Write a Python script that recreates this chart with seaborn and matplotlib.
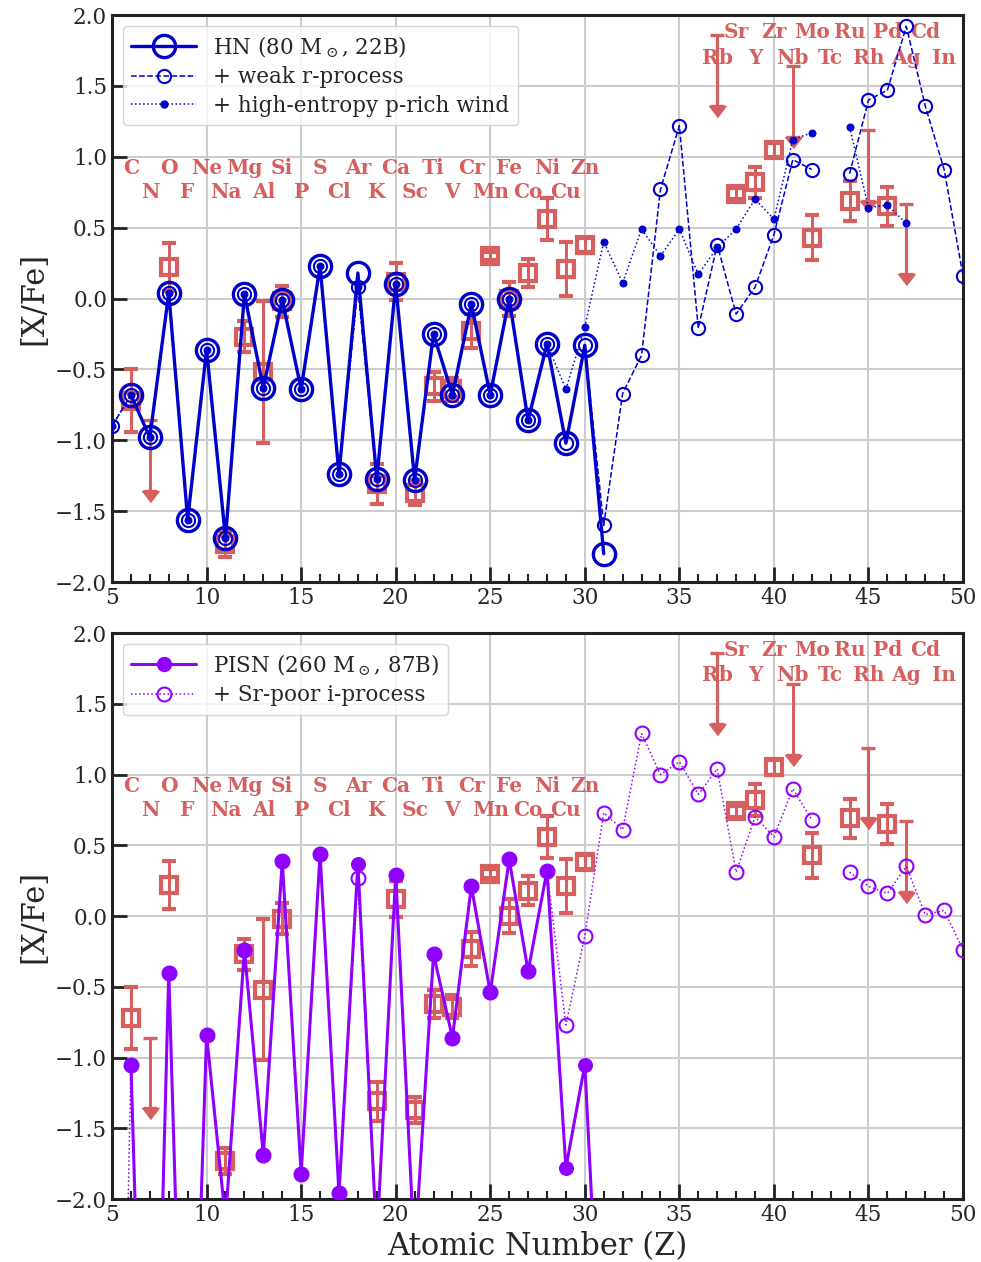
import numpy as np
import pandas as pd
import matplotlib.pyplot as plt
import seaborn as sns
from matplotlib.ticker import MultipleLocator

nan = np.nan

# observed abundances (squares with error bars)
obs_z = [6, 8, 11, 12, 13, 14, 19, 20, 21, 22, 23, 24, 25, 26, 27, 28, 29, 30,
         38, 39, 40, 42, 44, 46]
obs_val = [-0.72, 0.22, -1.73, -0.27, -0.52, -0.02, -1.31, 0.12, -1.37, -0.62,
           -0.64, -0.23, 0.30, 0.00, 0.18, 0.56, 0.21, 0.38,
           0.74, 0.82, 1.05, 0.43, 0.69, 0.65]
obs_err = [0.22, 0.17, 0.09, 0.11, 0.50, 0.11, 0.14, 0.13, 0.09, 0.10,
           0.08, 0.12, 0.03, 0.12, 0.10, 0.15, 0.19, 0.05,
           0.04, 0.11, 0.05, 0.16, 0.14, 0.14]

# upper limits (arrows)
lim_z = [7, 37, 41, 45, 47]
lim_val = [-0.86, 1.86, 1.64, 1.19, 0.67]
lim_len = 0.5

# element labels
elem_even = ["C", "O", "Ne", "Mg", "Si", "S", "Ar", "Ca", "Ti", "Cr", "Fe", "Ni", "Zn",
             "Sr", "Zr", "Mo", "Ru", "Pd", "Cd"]
elem_even_z = [6, 8, 10, 12, 14, 16, 18, 20, 22, 24, 26, 28, 30, 38, 40, 42, 44, 46, 48]
elem_odd = ["N", "F", "Na", "Al", "P", "Cl", "K", "Sc", "V", "Mn", "Co", "Cu",
            "Rb", "Y", "Nb", "Tc", "Rh", "Ag", "In"]
elem_odd_z = [7, 9, 11, 13, 15, 17, 19, 21, 23, 25, 27, 29, 37, 39, 41, 43, 45, 47, 49]

# HN model (80 Msun, 22B)
hn_z = list(range(6, 32))
hn_val = [-0.68, -0.98, 0.04, -1.56, -0.36, -1.69, 0.03, -0.63, -0.01, -0.64,
          0.23, -1.24, 0.18, -1.27, 0.10, -1.28, -0.25, -0.68, -0.04, -0.68,
          0.00, -0.86, -0.32, -1.02, -0.33, -1.80]

# + weak r-process
wr_z = list(range(5, 51))
wr_val = [-0.90, -0.68, -0.98, 0.04, -1.56, -0.36, -1.69, 0.03, -0.63, -0.01,
          -0.64, 0.23, -1.24, 0.08, -1.27, 0.10, -1.28, -0.25, -0.68, -0.04,
          -0.68, 0.00, -0.86, -0.32, -1.02, -0.33, -1.60, -0.67, -0.40, 0.77,
          1.22, -0.21, 0.38, -0.11, 0.08, 0.45, 0.98, 0.91, nan, 0.88,
          1.40, 1.47, 1.92, 1.36, 0.91, 0.16]

# + high-entropy p-rich wind
he_z = list(range(5, 48))
he_val = [-0.90, -0.68, -0.98, 0.04, -1.56, -0.36, -1.69, 0.03, -0.63, -0.01,
          -0.64, 0.23, -1.24, 0.08, -1.27, 0.10, -1.28, -0.25, -0.68, -0.04,
          -0.68, 0.00, -0.86, -0.32, -0.64, -0.20, 0.40, 0.11, 0.49, 0.30,
          0.49, 0.17, 0.36, 0.49, 0.70, 0.56, 1.12, 1.17, nan, 1.21,
          0.64, 0.66, 0.53]

# PISN model (260 Msun, 87B)
pisn_z = list(range(6, 32))
pisn_val = [-1.05, -5.5, -0.40, -4.9, -0.84, -2.15, -0.24, -1.69, 0.39, -1.82,
            0.44, -1.96, 0.37, -2.30, 0.29, -2.40, -0.27, -0.86, 0.21, -0.54,
            0.40, -0.39, 0.32, -1.78, -1.05, -3.7]

# + Sr-poor i-process
ip_z = list(range(5, 51))
ip_val = [-7.7, -1.05, -5.5, -0.40, -4.9, -0.84, -2.15, -0.24, -1.69, 0.39,
          -1.82, 0.44, -1.96, 0.27, -2.30, 0.29, -2.40, -0.27, -0.86, 0.21,
          -0.54, 0.40, -0.39, 0.32, -0.77, -0.14, 0.73, 0.61, 1.29, 1.00,
          1.09, 0.86, 1.04, 0.31, 0.70, 0.56, 0.90, 0.68, nan, 0.31,
          0.21, 0.16, 0.35, 0.01, 0.04, -0.24]

RED = "#d65f5f"
BLUE = "mediumblue"
PURPLE = "#8f00ff"

sns.set_theme(style="whitegrid")
plt.rcParams["font.family"] = ["DejaVu Serif"]
plt.rcParams["mathtext.fontset"] = "dejavuserif"


def to_df(z, v):
    df = pd.DataFrame({"Z": z, "val": v})
    # segment id so that a gap (nan) breaks the line
    df["seg"] = df["val"].isna().cumsum()
    return df.dropna()


def draw_series(ax, z, v, label, **kw):
    df = to_df(z, v)
    sns.lineplot(data=df, x="Z", y="val", units="seg", estimator=None,
                 sort=False, ax=ax, legend=False, **kw)
    ax.plot([], [], label=label, **kw)


def draw_obs(ax):
    ax.errorbar(obs_z, obs_val, yerr=obs_err, fmt="s", ms=12, mfc="none",
                mec=RED, mew=3, ecolor=RED, elinewidth=2.2, capsize=5,
                capthick=2.4, zorder=2)
    low = [v - lim_len for v in lim_val]
    ax.errorbar(lim_z, lim_val, yerr=[[lim_len] * len(lim_z), [0] * len(lim_z)],
                fmt="none", ecolor=RED, elinewidth=2.2, capsize=5, capthick=2.4,
                zorder=2)
    ax.plot(lim_z, low, ls="none", marker=[(-1, 0), (1, 0), (0, -1.3)],
            ms=16, color=RED, zorder=2)
    for name, z in zip(elem_even, elem_even_z):
        y = 1.88 if z > 31 else 0.92
        ax.text(z, y, name, color=RED, fontsize=14.5, fontweight="bold",
                ha="center", va="center")
    for name, z in zip(elem_odd, elem_odd_z):
        y = 1.70 if z > 31 else 0.75
        ax.text(z, y, name, color=RED, fontsize=14.5, fontweight="bold",
                ha="center", va="center")


def style_axes(ax):
    ax.set_xlim(5, 50)
    ax.set_ylim(-2.0, 2.0)
    ax.xaxis.set_major_locator(MultipleLocator(5))
    ax.xaxis.set_minor_locator(MultipleLocator(1))
    ax.yaxis.set_major_locator(MultipleLocator(0.5))
    ax.tick_params(axis="both", which="major", direction="in", length=11,
                   width=2, color="#222222", labelsize=15.5, bottom=True, left=True)
    ax.tick_params(axis="x", which="minor", direction="in", length=6,
                   width=1.5, color="#222222", bottom=True)
    ax.grid(True, which="major", color="#cccccc", lw=1.5)
    for sp in ax.spines.values():
        sp.set_color("#222222")
        sp.set_linewidth(2.2)
    ax.set_ylabel("[X/Fe]", fontsize=22)
    ax.set_xlabel("")


fig = plt.figure(figsize=(9.81, 12.62), dpi=100)
ax1 = fig.add_axes([0.1142, 0.5388, 0.8675, 0.4493])
ax2 = fig.add_axes([0.1142, 0.0499, 0.8675, 0.4485])

# top panel
draw_obs(ax1)
draw_series(ax1, hn_z, hn_val, r"HN (80 M$_\odot$, 22B)", color=BLUE, lw=2.4,
            marker="o", ms=16, mfc="none", mec=BLUE, mew=2.4, zorder=3)
draw_series(ax1, wr_z, wr_val, "+ weak r-process", color=BLUE, lw=1.1, ls="--",
            marker="o", ms=9.5, mfc="none", mec=BLUE, mew=1.5, zorder=4)
draw_series(ax1, he_z, he_val, "+ high-entropy p-rich wind", color=BLUE, lw=1.1,
            ls=":", marker="o", ms=5, mfc=BLUE, mec=BLUE, zorder=5)
style_axes(ax1)
ax1.legend(loc="upper left", fontsize=15.5, frameon=True, framealpha=0.8,
           edgecolor="#cccccc", handlelength=3, borderpad=0.4, labelspacing=0.3)

# bottom panel
draw_obs(ax2)
draw_series(ax2, pisn_z, pisn_val, r"PISN (260 M$_\odot$, 87B)", color=PURPLE,
            lw=2.2, marker="o", ms=10, mfc=PURPLE, mec=PURPLE, zorder=4)
draw_series(ax2, ip_z, ip_val, "+ Sr-poor i-process", color=PURPLE, lw=1.1,
            ls=":", marker="o", ms=10, mfc="none", mec=PURPLE, mew=1.5, zorder=3)
style_axes(ax2)
ax2.set_xlabel("Atomic Number (Z)", fontsize=22)
ax2.legend(loc="upper left", fontsize=15.5, frameon=True, framealpha=0.8,
           edgecolor="#cccccc", handlelength=3, borderpad=0.4, labelspacing=0.3)

fig.savefig("out.png", dpi=100)
